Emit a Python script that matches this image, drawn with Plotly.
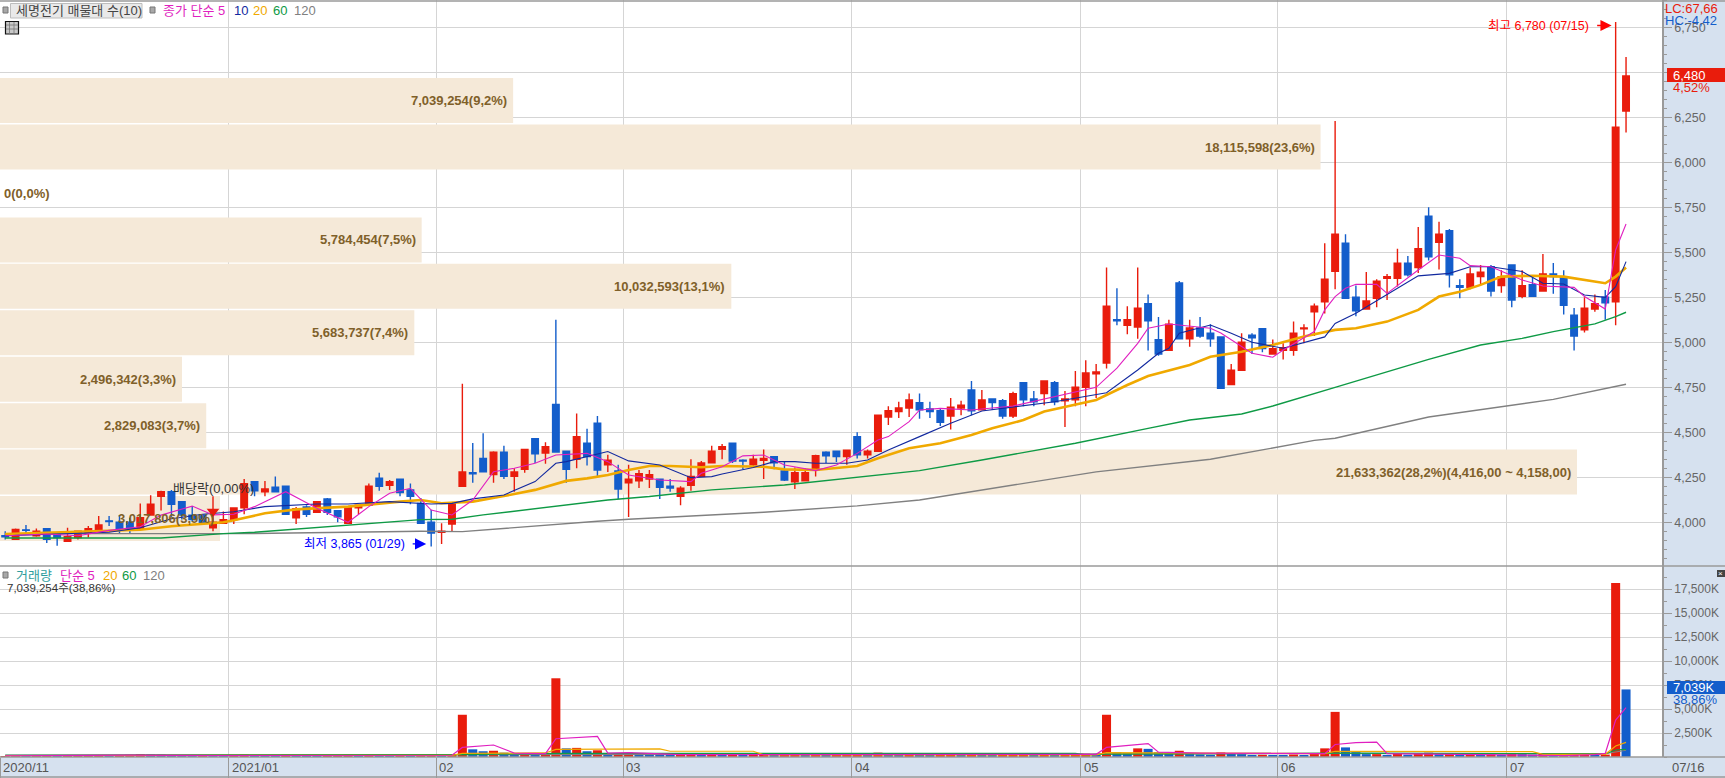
import plotly.graph_objects as go

# daily candles, 2020-12-01 .. 2021-07-16
opens = [3925,3905,3958,3925,3965,3940,3895,3915,3945,3940,4008,4000,4000,3965,4040,4145,4170,4115,4040,4040,
         3970,3995,4015,4080,4225,4170,4195,4200,4025,4085,4055,4130,4065,3995,4080,4095,4245,4205,4240,4180,
         4105,4000,3945,3990,4200,4275,4355,4265,4390,4255,4295,4465,4385,4655,4395,4350,4440,4550,4320,4285,
         4220,4230,4240,4240,4200,4145,4205,4255,4330,4405,4440,4345,4320,4345,4365,4285,4225,4230,4290,4390,
         4395,4365,4475,4375,4395,4585,4615,4635,4665,4630,4620,4590,4635,4735,4625,4685,4675,4590,4775,4685,
         4715,4775,4675,4680,4750,4825,4885,5125,5095,5085,5215,5015,4955,5330,5020,5080,5050,5030,4765,4845,
         5040,5075,4935,4955,4955,5075,5170,5225,5395,5550,5250,5185,5245,5355,5355,5440,5415,5700,5555,5620,
         5315,5305,5365,5420,5315,5430,5255,5320,5285,5380,5365,5150,5070,5185,5250,5225,6285]
highs = [3950,3965,3985,3965,3965,3940,3970,3950,3980,4035,4035,4040,4025,4105,4150,4175,4180,4115,4090,4040,
         4145,4060,4080,4240,4225,4230,4255,4205,4085,4095,4115,4135,4065,4090,4095,4215,4275,4235,4240,4215,
         4135,4070,3995,4105,4770,4440,4495,4395,4425,4300,4405,4465,4445,5125,4395,4605,4520,4590,4375,4320,
         4320,4290,4290,4240,4240,4200,4350,4340,4425,4435,4440,4350,4375,4405,4365,4340,4305,4300,4375,4395,
         4395,4400,4500,4405,4595,4645,4670,4715,4715,4670,4635,4690,4675,4785,4735,4685,4685,4725,4775,4730,
         4785,4785,4730,4840,4900,4880,5415,5300,5200,5415,5265,5140,5125,5340,5125,5140,5100,5030,4880,5050,
         5050,5075,5015,4995,5115,5100,5215,5550,6230,5600,5315,5390,5350,5380,5520,5480,5640,5750,5670,5630,
         5350,5415,5430,5430,5400,5430,5400,5360,5490,5440,5400,5190,5250,5265,5290,6780,6585]
lows = [3905,3905,3935,3920,3885,3870,3895,3905,3915,3940,3980,3935,3940,3965,4040,4065,4030,4015,4005,3985,
        3950,3990,3990,4045,4145,4145,4170,4045,3990,4030,4055,4040,4000,3995,4045,4095,4175,4180,4145,4100,
        3990,3865,3880,3950,4200,4220,4280,4220,4240,4170,4275,4330,4325,4390,4220,4300,4315,4250,4280,4130,
        4030,4190,4190,4130,4170,4095,4175,4255,4330,4350,4330,4295,4305,4240,4295,4230,4185,4230,4255,4330,
        4335,4320,4355,4355,4395,4540,4580,4585,4575,4580,4535,4515,4595,4595,4625,4625,4575,4580,4645,4645,
        4650,4650,4530,4645,4645,4690,4855,5095,5045,5020,4955,4925,4955,5020,4975,5025,4975,4745,4765,4845,
        4935,4945,4935,4905,4925,4995,5035,5160,5295,5245,5145,5185,5195,5235,5310,5365,5385,5455,5405,5305,
        5245,5295,5320,5255,5275,5195,5245,5255,5285,5270,5155,4955,5055,5170,5125,5095,6165]
closes = [3920,3960,3955,3950,3905,3915,3920,3950,3965,3985,4004,3965,3965,4025,4100,4170,4100,4040,4015,4000,
          4000,4015,4080,4215,4175,4185,4170,4045,4075,4045,4115,4055,4030,4085,4095,4200,4200,4225,4165,4145,
          3995,3940,3950,4105,4280,4270,4280,4390,4255,4280,4405,4380,4420,4390,4295,4475,4365,4290,4345,4185,
          4240,4270,4265,4195,4190,4190,4255,4330,4395,4420,4340,4340,4350,4355,4330,4235,4275,4275,4370,4370,
          4365,4400,4375,4395,4595,4620,4635,4680,4625,4615,4555,4640,4650,4620,4680,4665,4590,4715,4680,4670,
          4785,4670,4685,4750,4830,4835,5200,5120,5125,5190,5120,4935,5100,5020,5080,5035,5020,4745,4845,5000,
          5025,4965,4965,4970,5050,5080,5200,5350,5600,5245,5175,5230,5340,5365,5440,5375,5520,5475,5600,5375,
          5305,5380,5390,5285,5365,5235,5315,5255,5380,5365,5205,5035,5190,5215,5220,6195,6480]
volumes = [90,110,80,100,120,90,110,130,140,200,150,190,230,310,280,260,210,180,160,170,
           140,120,150,280,210,170,160,260,190,150,140,180,220,300,170,240,220,140,160,150,
           210,280,190,300,4400,800,600,650,450,250,350,300,300,8200,900,950,600,700,300,400,
           450,260,240,220,180,210,260,240,280,230,260,150,170,210,160,170,190,150,220,130,
           140,180,300,200,450,330,260,300,240,180,220,250,170,330,210,140,190,260,300,150,
           250,240,280,300,350,260,4400,520,400,900,850,500,450,650,300,260,220,480,330,300,
           180,230,170,140,260,180,400,900,4700,1000,500,300,300,220,310,240,420,450,300,360,
           230,260,180,280,230,400,300,240,320,200,280,280,380,240,250,18116,7039]

# moving averages, read at the candles where the line bends
ma5_idx = [0,4,7,10,13,15,18,20,22,24,27,30,33,35,37,39,41,43,45,47,49,51,53,56,58,60,63,66,67,69,71,73,75,78,80,82,84,85,87,88,90,93,97,101,105,107,109,110,112,116,117,120,122,123,126,127,128,129,130,132,133,136,138,140,141,143,146,148,151,152,154,155,156]
ma5 = [3925,3935,3925,3955,3975,4040,4090,4041,4045,4087,4170,4078,4000,4087,4161,4189,4068,4041,4124,4281,4300,4328,4374,4383,4337,4263,4235,4226,4272,4309,4369,4374,4318,4287,4318,4383,4457,4476,4559,4624,4633,4624,4646,4698,4750,4856,4994,5078,5102,5078,5052,4939,4917,4957,5060,5180,5254,5300,5322,5322,5272,5402,5485,5467,5426,5420,5346,5313,5305,5254,5185,5513,5657]
ma10_idx = [0,5,10,13,16,19,22,25,30,33,37,41,43,45,48,51,53,54,58,60,63,66,68,69,72,74,76,78,81,83,85,88,91,94,97,101,106,109,111,112,113,116,118,120,123,127,128,130,134,136,139,141,143,146,148,150,152,154,155,156]
ma10 = [3925,3935,3945,3970,4020,4045,4059,4087,4102,4102,4115,4102,4105,4130,4152,4226,4328,4337,4393,4341,4318,4248,4254,4268,4304,4337,4337,4328,4328,4346,4402,4476,4550,4618,4639,4670,4720,4846,4939,4967,5050,5096,5050,5000,4967,5030,5105,5161,5300,5369,5383,5420,5420,5393,5328,5324,5263,5250,5309,5448]
ma20_idx = [0,10,13,16,21,22,25,28,33,38,40,42,45,48,51,54,56,58,60,62,64,67,69,73,75,78,82,84,87,90,93,95,98,100,105,108,110,114,116,119,122,125,128,130,133,136,138,140,142,144,147,150,152,154,155,156]
ma20 = [3935,3956,3959,3978,4000,4011,4050,4072,4087,4115,4124,4106,4115,4146,4180,4230,4244,4263,4291,4313,4313,4306,4313,4309,4294,4291,4313,4356,4411,4439,4485,4522,4568,4615,4680,4763,4813,4874,4920,4948,4985,5032,5069,5078,5115,5180,5254,5281,5319,5365,5370,5365,5346,5328,5365,5415]
ma60_idx = [0,15,21,24,40,43,46,53,58,62,68,75,81,88,94,103,110,114,119,122,128,137,142,146,149,151,153,155,156]
ma60 = [3913,3913,3937,3945,4015,4017,4041,4087,4124,4143,4180,4207,4244,4287,4346,4439,4522,4568,4602,4646,4750,4905,4985,5022,5059,5081,5102,5143,5167]
ma120_idx = [0,23,40,44,57,60,73,82,88,105,116,126,128,137,149,156]
ma120 = [3937,3937,3950,3948,4006,4017,4056,4091,4124,4280,4350,4455,4467,4585,4683,4767]

vol_ma5_idx = [0,12,20,40,43,44,47,49,52,53,56,57,58,60,65,84,105,106,110,111,115,127,128,130,132,133,140,150,153,154,155,156]
vol_ma5 = [120,200,150,180,180,1000,1250,400,350,1900,2100,2150,400,450,250,250,280,1000,1400,500,400,350,1300,1500,1550,350,250,150,250,380,3850,5140]
vol_ma20_idx = [0,43,44,52,53,63,64,72,73,105,106,125,127,128,147,148,154,155,156]
vol_ma20 = [150,170,380,420,800,850,600,600,230,230,450,330,350,600,555,280,280,1150,1530]
vol_ma60_idx = [0,43,44,53,103,104,106,113,128,154,155,156]
vol_ma60 = [180,180,250,380,380,220,300,320,400,330,730,800]
vol_ma120_idx = [0,44,53,106,128,154,155,156]
vol_ma120 = [200,230,300,320,370,340,520,700]
vol_ticks = [2500,5000,7500,10000,12500,15000,17500]

# volume by price, 10 bins of 258 won
band_tops = [6480,6222,5964,5706,5448,5190,4932,4674,4416,4158]
band_volumes = [7039254,18115598,0,5784454,10032593,5683737,2496342,2829083,21633362,3017806]
band_labels = ["7,039,254(9,2%)","18,115,598(23,6%)","0(0,0%)","5,784,454(7,5%)","10,032,593(13,1%)",
               "5,683,737(7,4%)","2,496,342(3,3%)","2,829,083(3,7%)",
               "21,633,362(28,2%)(4,416,00 ~ 4,158,00)","3,017,806(3,9%)"]

month_edges = [-0.5,21.5,41.5,59.5,81.5,103.5,122.5,144.5]
month_labels = ["2020/11","2021/01","02","03","04","05","06","07"]

RED = "#e91c0c"
BLUE = "#135dcb"
MAG = "#e01fc0"
NAVY = "#12299f"
ORANGE = "#f0a900"
GREEN = "#0e9a45"
GRAY = "#808080"
PANEL = "#d6e1ef"
EDGE = "#9a9a9a"
GRID = "#d5d5d5"
BROWN = "#7f6029"

W, H = 1662, 757      # plot area in pixels
PITCH = 10.39         # pixels per candle
FONT = "Liberation Sans, Noto Sans CJK KR, sans-serif"


def px(x):
    return x / W


def py(y):
    return 1 - y / H


fig = go.Figure()

fig.add_trace(go.Candlestick(
    x=list(range(len(opens))), open=opens, high=highs, low=lows, close=closes,
    increasing=dict(line=dict(color=RED, width=1.4), fillcolor=RED),
    decreasing=dict(line=dict(color=BLUE, width=1.4), fillcolor=BLUE),
    whiskerwidth=0, hoverinfo="skip", xaxis="x", yaxis="y",
))

for idx, vals, color, w in [(ma120_idx, ma120, GRAY, 1.4), (ma60_idx, ma60, GREEN, 1.4), (ma20_idx, ma20, ORANGE, 2.6),
                            (ma10_idx, ma10, NAVY, 1.1), (ma5_idx, ma5, MAG, 1.1)]:
    fig.add_trace(go.Scatter(x=idx, y=vals, mode="lines", line=dict(color=color, width=w),
                             hoverinfo="skip", xaxis="x", yaxis="y"))

# dividend marker
fig.add_trace(go.Scatter(x=[20], y=[4060], mode="markers", hoverinfo="skip", xaxis="x", yaxis="y",
                         marker=dict(symbol="triangle-down", size=11, color=RED)))

# bars are red when volume grew on the previous day
vol_colors = [RED if i == 0 or v >= volumes[i - 1] else BLUE for i, v in enumerate(volumes)]
fig.add_trace(go.Bar(x=list(range(len(volumes))), y=volumes, width=0.87, marker=dict(color=vol_colors, line=dict(width=0)),
                     hoverinfo="skip", xaxis="x2", yaxis="y2"))
for idx, vals, color in [(vol_ma120_idx, vol_ma120, GRAY), (vol_ma60_idx, vol_ma60, GREEN),
                         (vol_ma20_idx, vol_ma20, ORANGE), (vol_ma5_idx, vol_ma5, MAG)]:
    fig.add_trace(go.Scatter(x=idx, y=vals, mode="lines", line=dict(color=color, width=1.2),
                             hoverinfo="skip", xaxis="x2", yaxis="y2"))

shapes = []
annotations = []


def label(x, y, text, color, size=13, anchor="left"):
    annotations.append(dict(xref="paper", yref="paper", x=px(x), y=py(y), text=text, showarrow=False,
                            xanchor=anchor, yanchor="middle", font=dict(family=FONT, size=size, color=color)))


def box(x0, y0, x1, y1, fill, line=None, lw=1):
    shapes.append(dict(type="rect", xref="paper", yref="paper", x0=px(x0), x1=px(x1), y0=py(y0), y1=py(y1),
                       fillcolor=fill, line=dict(color=line or fill, width=lw if line else 0), layer="above"))


# volume-by-price bands, widths scale with the shares in each bin
band_scale = 1577 / PITCH / max(band_volumes)
for top, vol, text in zip(band_tops, band_volumes, band_labels):
    right = -0.5 + vol * band_scale
    if vol > 0:
        shapes.append(dict(type="rect", xref="x", yref="y", x0=-0.5, x1=right, y0=top - 262, y1=top - 12,
                           fillcolor="#f5e9d8", line=dict(width=0), layer="between"))
    annotations.append(dict(xref="x", yref="y", x=right, y=top - 137, text=text, showarrow=False,
                            xanchor="right" if vol > 0 else "left", xshift=-4 if vol > 0 else 2, yanchor="middle",
                            font=dict(family=FONT, size=13, color=BROWN, weight=700)))

# panel frame lines
for y in [1, 566, 757, 777]:
    shapes.append(dict(type="line", xref="paper", yref="paper", x0=0, x1=px(1725), y0=py(y), y1=py(y),
                       line=dict(color=EDGE, width=1.6), layer="above"))

# price panel legend
box(3, 7, 8, 13, "#a8a8a8", "#777777")
box(10.5, 3.5, 142, 18, "#e9e9e9", "#bdbdbd")
label(14, 10.5, "세명전기 매물대 수(10)", "#444444", 13)
box(150, 7, 155, 13, "#a8a8a8", "#777777")
label(161, 10.5, "종가 단순 5", MAG, 13)
label(232, 10.5, "10", NAVY, 13)
label(251, 10.5, "20", ORANGE, 13)
label(271, 10.5, "60", GREEN, 13)
label(292, 10.5, "120", GRAY, 13)

# table icon
box(5.5, 21.5, 18.5, 34, "#c9c9c9", "#111111", 1.2)
for gx in [9.5, 14]:
    shapes.append(dict(type="line", xref="paper", yref="paper", x0=px(gx), x1=px(gx), y0=py(22), y1=py(34),
                       line=dict(color="#777777", width=0.8), layer="above"))
for gy in [25, 29]:
    shapes.append(dict(type="line", xref="paper", yref="paper", x0=px(6), x1=px(18), y0=py(gy), y1=py(gy),
                       line=dict(color="#777777", width=0.8), layer="above"))

# volume panel legend
box(3, 572, 8, 578, "#a8a8a8", "#777777")
label(14, 575, "거래량", "#2f9d9d", 13)
label(58, 575, "단순 5", MAG, 13)
label(101, 575, "20", ORANGE, 13)
label(120, 575, "60", GREEN, 13)
label(141, 575, "120", GRAY, 13)
label(5, 588, "7,039,254주(38,86%)", "#333333", 11.5)

# high / low callouts and the ex-dividend note
annotations.append(dict(xref="x", yref="y", x=155, y=6760, text="최고 6,780 (07/15)", showarrow=False, xanchor="right",
                        xshift=-25, yanchor="middle", font=dict(family=FONT, size=12.5, color="#ff0000")))
annotations.append(dict(xref="x", yref="y", x=155, y=6760, ax=-20, ay=0, axref="pixel", ayref="pixel", text="", showarrow=True,
                        arrowhead=2, arrowsize=1.6, arrowwidth=1.4, arrowcolor="#ff0000", standoff=4))
annotations.append(dict(xref="x", yref="y", x=41, y=3880, text="최저 3,865 (01/29)", showarrow=False, xanchor="right",
                        xshift=-24, yanchor="middle", font=dict(family=FONT, size=12.5, color="#0000ff")))
annotations.append(dict(xref="x", yref="y", x=41, y=3880, ax=-20, ay=0, axref="pixel", ayref="pixel", text="", showarrow=True,
                        arrowhead=2, arrowsize=1.6, arrowwidth=1.4, arrowcolor="#0000ff", standoff=5))
annotations.append(dict(xref="x", yref="y", x=20, y=4190, text="배당락(0,00%)", showarrow=False, yanchor="middle",
                        font=dict(family=FONT, size=13, color="#333333")))

# right side readouts
label(1663, 9, "LC:67,66", RED, 13)
label(1663, 21, "HC:-4,42", BLUE, 13)
box(1667, 68, 1725, 82, RED)
label(1671, 75, "6,480", "#ffffff", 13)
label(1671, 88, "4,52%", RED, 13)
box(1667, 681, 1725, 694, BLUE)
label(1670.5, 687.5, "7,039K", "#ffffff", 13)
label(1670.5, 699, "38,86%", BLUE, 13)
box(1717, 570, 1725, 577, "#444444")
label(1721, 573.5, "×", "#ffffff", 8, "center")

# month labels in the bottom strip
for edge, text in zip(month_edges, month_labels):
    annotations.append(dict(xref="x2", yref="paper", x=edge, y=py(767), text=text, showarrow=False, xanchor="left", xshift=1,
                            yanchor="middle", font=dict(family=FONT, size=13, color="#555555")))
label(1670, 767, "07/16", "#555555", 13)

x_range = [-0.5, W / PITCH - 0.5]
x_common = dict(range=x_range, tickmode="array", tickvals=month_edges, showticklabels=False, showgrid=True,
                gridcolor=GRID, gridwidth=1.2, zeroline=False, rangeslider=dict(visible=False), fixedrange=True)
split = py(566)

fig.update_layout(
    width=1725, height=778,
    margin=dict(l=0, r=63, t=0, b=21),
    paper_bgcolor=PANEL, plot_bgcolor="#ffffff",
    showlegend=False, boxgap=0.1, barmode="overlay",
    shapes=shapes, annotations=annotations,
    font=dict(family=FONT),
    xaxis=dict(anchor="y", **x_common),
    xaxis2=dict(anchor="y2", matches="x", ticks="outside", ticklen=20, tickcolor=EDGE, tickwidth=1.4, **x_common),
    yaxis=dict(domain=[split, 1], range=[3757.2, 6901.7], side="right", anchor="x", tick0=0, dtick=250, tickformat=",",
               showgrid=True, gridcolor=GRID, gridwidth=1.2, zeroline=False, showline=True, linecolor=EDGE, linewidth=1.6,
               ticks="outside", ticklen=8, tickcolor=EDGE, tickfont=dict(family=FONT, size=12.5, color="#666666"),
               minor=dict(dtick=50, ticks="outside", ticklen=3, tickcolor=EDGE, showgrid=False)),
    yaxis2=dict(domain=[0, split], range=[0, 19896], side="right", anchor="x2", tickmode="array", tickvals=vol_ticks,
                ticktext=[f"{t:,}K" for t in vol_ticks],
                showgrid=True, gridcolor=GRID, gridwidth=1.2, zeroline=False, showline=True, linecolor=EDGE, linewidth=1.6,
                ticks="outside", ticklen=8, tickcolor=EDGE, tickfont=dict(family=FONT, size=12, color="#666666"),
                minor=dict(dtick=1250, ticks="outside", ticklen=3, tickcolor=EDGE, showgrid=False)),
)

fig.write_html("out.html", config={"displayModeBar": False},
               post_script="document.body.style.margin='0';document.body.style.overflow='hidden';")
